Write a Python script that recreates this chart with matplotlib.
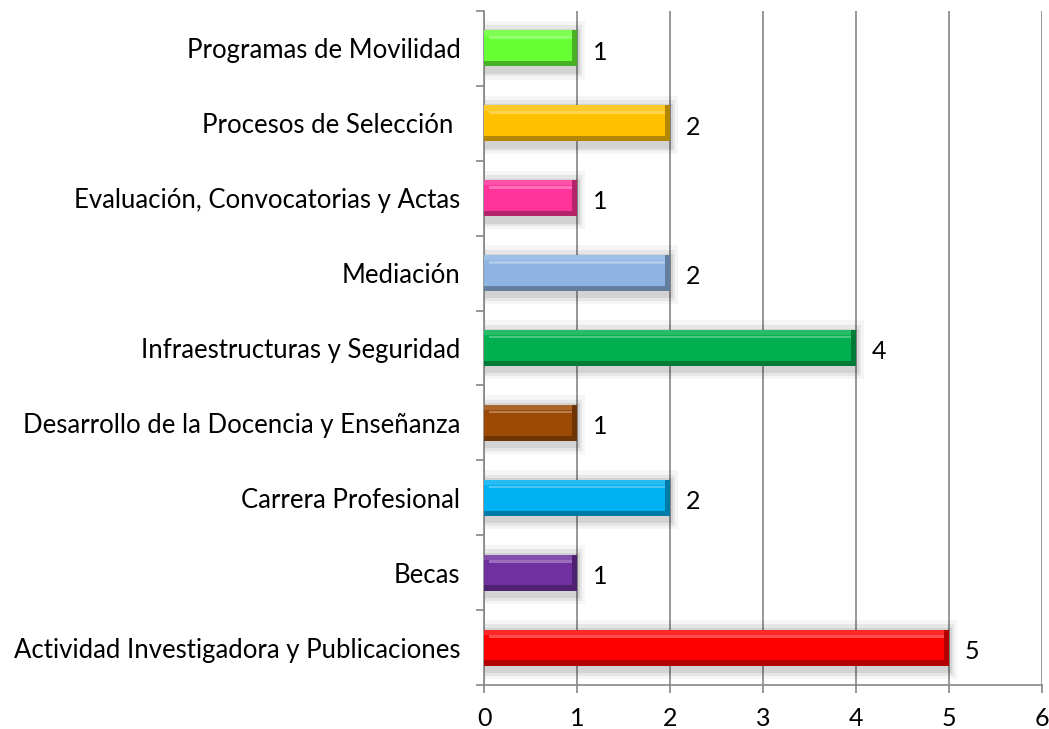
import matplotlib
matplotlib.use("Agg")
import matplotlib.pyplot as plt
import matplotlib.colors as mcolors
from matplotlib.patches import Rectangle

categories = [
    "Actividad Investigadora y Publicaciones",
    "Becas",
    "Carrera Profesional",
    "Desarrollo de la Docencia y Enseñanza",
    "Infraestructuras y Seguridad",
    "Mediación",
    "Evaluación, Convocatorias y Actas",
    "Procesos de Selección ",
    "Programas de Movilidad",
]
values = [5, 1, 2, 1, 4, 2, 1, 2, 1]
colors = ["#FF0000", "#7030A0", "#00B0F0", "#9C4A06", "#00B050",
          "#8DB4E2", "#FF3399", "#FFC000", "#66FF33"]
xticks = [0, 1, 2, 3, 4, 5, 6]

plt.rcParams['font.family'] = ['Lato', 'DejaVu Sans']

fig = plt.figure(figsize=(10.49, 7.29), dpi=100)
ax = fig.add_axes([484/1049, 1-685/729, (1042-484)/1049, (685-11)/729])

ypos = list(range(len(categories)))
h = 0.48

def shade(c, f):
    r, g, b = mcolors.to_rgb(c)
    if f >= 0:
        return (r + (1-r)*f, g + (1-g)*f, b + (1-b)*f)
    return (r*(1+f), g*(1+f), b*(1+f))

# soft shadows
for y, v in zip(ypos, values):
    for k, a in zip([0.18, 0.12, 0.07], [0.04, 0.06, 0.08]):
        ax.add_patch(Rectangle((0, y - h/2 - k*0.7 - 0.05), v + k*0.45, h + k*1.7,
                               facecolor='black', alpha=a, edgecolor='none', zorder=1))

bars = ax.barh(ypos, values, height=h, color=colors, edgecolor='none', zorder=3)

# bevel effect
for y, v, c in zip(ypos, values, colors):
    bx = 0.05
    by = 0.07
    ax.add_patch(Rectangle((0, y + h/2 - by), v, by, facecolor=shade(c, 0.15),
                           edgecolor='none', zorder=4))
    ax.add_patch(Rectangle((0, y - h/2), v, by, facecolor=shade(c, -0.3),
                           edgecolor='none', zorder=4))
    ax.add_patch(Rectangle((v - bx, y - h/2), bx, h, facecolor=shade(c, -0.3),
                           edgecolor='none', zorder=5))
    ax.add_patch(Rectangle((bx, y + h/2 - by*1.6), v - 2*bx, 0.035,
                           facecolor=shade(c, 0.3), edgecolor='none', zorder=5))

for y, v in zip(ypos, values):
    ax.text(v + 0.17, y - 0.05, str(v), va='center', ha='left', fontsize=18, color='black')

ax.set_xlim(0, 6)
ax.set_ylim(-0.5, len(categories) - 0.5)
ax.set_xticks(xticks)
ax.set_xticklabels([str(t) for t in xticks], fontsize=18)
ax.set_yticks([y for y in ypos])
ax.set_yticklabels(categories, fontsize=18.5)
ax.set_yticks([y - 0.5 for y in ypos] + [len(categories) - 0.5], minor=True)
ax.tick_params(axis='y', which='major', length=0, pad=17)
ax.tick_params(axis='y', which='minor', length=6, color='#868686', width=1.2)
ax.tick_params(axis='x', length=6, color='#868686', width=1.2, pad=10)
ax.xaxis.grid(True, color='#868686', linewidth=1.2, zorder=0)
ax.set_axisbelow(True)
for s in ['top', 'right']:
    ax.spines[s].set_visible(False)
for s in ['left', 'bottom']:
    ax.spines[s].set_color('#868686')
    ax.spines[s].set_linewidth(1.2)

fig.savefig("out.png", dpi=100)
